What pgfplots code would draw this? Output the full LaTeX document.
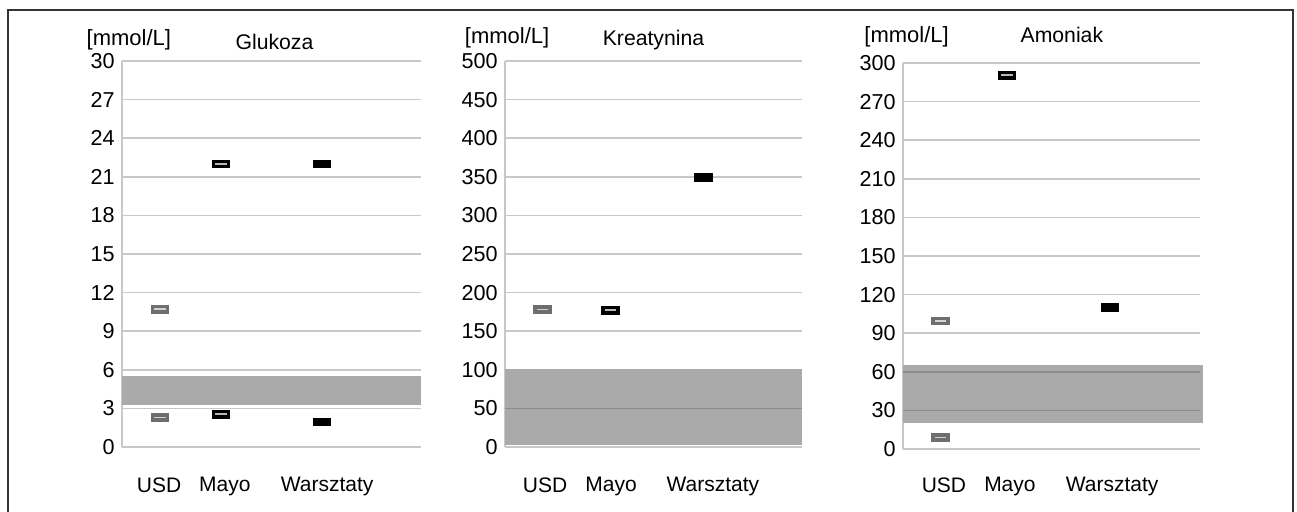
\documentclass[border=0pt]{standalone}
\usepackage{pgfplots}
\pgfplotsset{compat=1.18}
\usepackage{fontspec}
\setmainfont{Liberation Sans}
\definecolor{gridc}{HTML}{C8C8C8}
\definecolor{bandc}{HTML}{AAAAAA}
\definecolor{usdc}{HTML}{6E6E6E}
\pgfplotsset{
  panel/.style={
    scale only axis, height=193pt,
    xmin=0, xmax=100,
    axis lines*=left,
    x axis line style={draw=none},
    y axis line style={draw=gridc, line width=0.8pt, -},
    ymajorgrids, major grid style={draw=gridc, line width=0.8pt},
    tick style={draw=none},
    major tick length=0pt,
    /pgf/number format/assume math mode=true,
    yticklabel style={font=\fontsize{10.8}{12}\selectfont, inner sep=0pt, xshift=-3.5pt},
    xticklabel style={font=\fontsize{10.5}{12}\selectfont, inner sep=0pt, yshift=-15pt},
    clip=false,
  },
  usd/.style={only marks, mark=square*, mark size=1.9pt, mark options={xscale=2.3, fill=usdc, draw=usdc, line width=0.3pt}},
  usdin/.style={only marks, mark=-, mark size=2.8pt, mark options={draw=gray!35, line width=0.9pt}},
  mayo/.style={only marks, mark=square*, mark size=1.9pt, mark options={xscale=2.3, fill=black, draw=black, line width=0.3pt}},
  mayoin/.style={only marks, mark=-, mark size=2.8pt, mark options={draw=gray!55, line width=0.9pt}},
  wars/.style={only marks, mark=square*, mark size=1.9pt, mark options={xscale=2.3, fill=black, draw=black, line width=0.3pt}},
}
\tikzset{
  lab/.style={anchor=base, font=\fontsize{11}{12}\selectfont},
  ttl/.style={anchor=base, font=\fontsize{10.6}{12}\selectfont},
}
\begin{document}
\begin{tikzpicture}
\path[use as bounding box] (0,0) rectangle (648.5pt,-256pt);
% outer frame
\draw[line width=0.8pt, black!80] (4pt,-256pt) -- (4pt,-5pt) -- (646.5pt,-5pt) -- (646.5pt,-256pt);

% ---------------- Glukoza ----------------
\begin{axis}[panel, at={(61pt,-223.5pt)}, anchor=south west, width=149.5pt,
  ymin=0, ymax=30, ytick={0,3,...,30},
  xtick={12.4,34.4,68.6}, xticklabels={USD,Mayo,Warsztaty}]
\addplot[draw=none, fill=bandc] coordinates {(0,3.3) (100,3.3) (100,5.5) (0,5.5)} -- cycle;
\addplot[usd] coordinates {(12.7,10.7) (12.7,2.3)};
\addplot[usdin] coordinates {(12.7,10.7) (12.7,2.3)};
\addplot[mayo] coordinates {(33.1,22.0) (33.1,2.55)};
\addplot[mayoin] coordinates {(33.1,22.0) (33.1,2.55)};
\addplot[wars] coordinates {(66.9,22.0) (66.9,1.95)};
\node[lab] at (rel axis cs:0.023,1) [yshift=7.5pt] {[mmol/L]};
\node[ttl] at (rel axis cs:0.51,1) [yshift=5.5pt] {Glukoza};
\end{axis}

% ---------------- Kreatynina ----------------
\begin{axis}[panel, at={(252.5pt,-223.5pt)}, anchor=south west, width=148.5pt,
  ymin=0, ymax=500, ytick={0,50,...,500},
  xtick={13.5,35.7,70.0}, xticklabels={USD,Mayo,Warsztaty}]
\addplot[draw=none, fill=bandc] coordinates {(0,3) (100,3) (100,101) (0,101)} -- cycle;
\addplot[black!45, line width=0.8pt] coordinates {(0,50) (100,50)};
\addplot[usd] coordinates {(12.5,178)};
\addplot[usdin] coordinates {(12.5,178)};
\addplot[mayo] coordinates {(35.4,177)};
\addplot[mayoin] coordinates {(35.4,177)};
\addplot[wars] coordinates {(66.7,349)};
\node[lab] at (rel axis cs:0.007,1) [yshift=9pt] {[mmol/L]};
\node[ttl] at (rel axis cs:0.50,1) [yshift=8pt] {Kreatynina};
\end{axis}

% ---------------- Amoniak ----------------
\begin{axis}[panel, at={(451.5pt,-224.5pt)}, anchor=south west, width=148.5pt,
  ymin=0, ymax=300, ytick={0,30,...,300},
  xticklabel style={yshift=1pt},
  xtick={13.8,36.0,70.4}, xticklabels={USD,Mayo,Warsztaty}]
\addplot[draw=none, fill=bandc] coordinates {(0,20) (101,20) (101,65.5) (0,65.5)} -- cycle;
\addplot[black!45, line width=0.8pt] coordinates {(0,30) (100,30)};
\addplot[black!45, line width=0.8pt] coordinates {(0,60) (100,60)};
\addplot[usd] coordinates {(12.5,99.7) (12.5,9)};
\addplot[usdin] coordinates {(12.5,99.7) (12.5,9)};
\addplot[mayo] coordinates {(35.0,290.5)};
\addplot[mayoin] coordinates {(35.0,290.5)};
\addplot[wars] coordinates {(69.7,110)};
\node[lab] at (rel axis cs:0.012,1) [yshift=10pt] {[mmol/L]};
\node[ttl] at (rel axis cs:0.535,1) [yshift=10pt] {Amoniak};
\end{axis}
\end{tikzpicture}
\end{document}
